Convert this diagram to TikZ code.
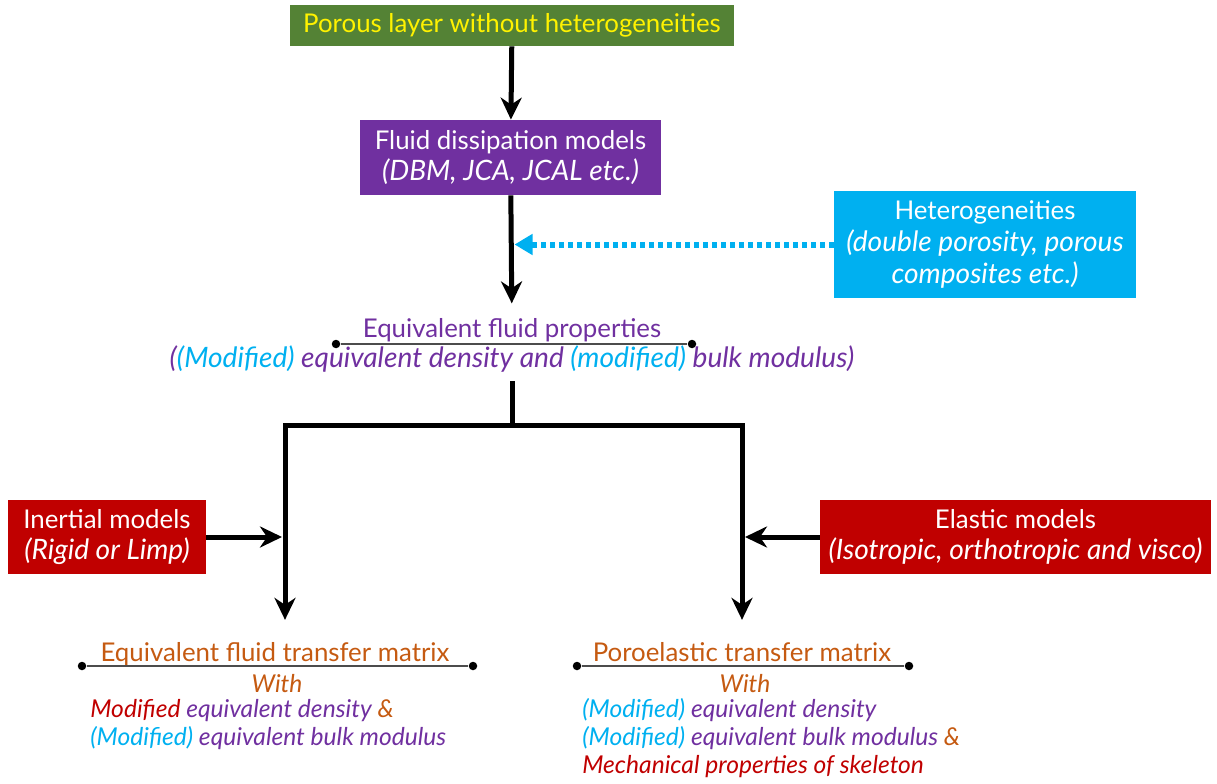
\documentclass[tikz,border=0pt]{standalone}
\usepackage{fontspec}
\setmainfont{Lato}
\usepackage{xcolor}
\usetikzlibrary{arrows.meta,positioning}
\definecolor{leafgreen}{HTML}{548235}
\definecolor{plum}{HTML}{7030A0}
\definecolor{skyblue}{HTML}{00B0F0}
\definecolor{darkred}{HTML}{C00000}
\definecolor{rust}{HTML}{C55A11}

\begin{document}
\begin{tikzpicture}[
  x=0.02cm, y=-0.02cm,
  font=\fontsize{14.7}{18}\selectfont,
  box/.style={rectangle,align=center,text=white,inner sep=2pt},
  sub/.style={font=\fontsize{16}{18}\selectfont\itshape},
  flow/.style={-{Stealth[length=4.4mm,width=4.2mm,inset=1.4mm]},line width=1mm},
  trunk/.style={line width=1mm},
  hetflow/.style={-{Triangle[length=3.6mm,width=4mm]},draw=skyblue,line width=1.2mm,
                  dash pattern=on 1mm off 0.8mm},
  title/.style={inner sep=1pt,anchor=base},
  dot/.style={circle,fill=black,inner sep=0pt,minimum size=1.7mm},
  rule/.style={draw=black!70,line width=0.6pt},
  note/.style={font=\fontsize{14}{15.9}\selectfont\itshape,align=left,inner sep=0pt,anchor=north west}
]
\useasboundingbox (0,0) rectangle (1217,784);

% ===================== models feeding the chain =====================
\node[box,fill=leafgreen,text=yellow,minimum width=8.88cm,minimum height=0.82cm] (layer) at (512,25.5)
  {Porous layer without heterogeneities};
\node[box,fill=plum,minimum width=6.02cm,minimum height=1.5cm] (fdm) at (510.5,157.5)
  {Fluid dissipation models\\{\fontsize{16}{18}\selectfont\itshape (DBM, JCA, JCAL etc.)}};
\node[box,fill=skyblue,minimum width=6.04cm,minimum height=2.14cm] (het) at (985,244.5)
  {Heterogeneities\\{\fontsize{16}{18.5}\selectfont\itshape (double porosity, porous}\\
   {\fontsize{16}{18.5}\selectfont\itshape composites etc.)}};

% ===================== equivalent fluid =====================
\node[title,text=plum] (eqfp) at (512,337) {Equivalent fluid properties};
\node[dot] (eqL) at (336,344) {};
\node[dot] (eqR) at (692,344) {};
\draw[rule] (eqL) -- (eqR);
\node[title,sub,text=plum] (eqfpmod) at (512,367)
  {(\textcolor{skyblue}{(Modified)} equivalent density and \textcolor{skyblue}{(modified)} bulk modulus)};

% ===================== skeleton models =====================
\node[box,fill=darkred,minimum width=3.96cm,minimum height=1.48cm] (inert) at (107,537)
  {Inertial models\\{\fontsize{16}{18}\selectfont\itshape (Rigid or Limp)}};
\node[box,fill=darkred,minimum width=7.82cm,minimum height=1.48cm] (elast) at (1015.5,537)
  {Elastic models\\{\fontsize{16}{18}\selectfont\itshape (Isotropic, orthotropic and visco)}};

% ===================== transfer matrices =====================
\node[title,text=rust] (eftm) at (275,661) {Equivalent fluid transfer matrix};
\node[dot] (efL) at (82,666) {};
\node[dot] (efR) at (473,666) {};
\draw[rule] (efL) -- (efR);
\node[title,text=rust,font=\fontsize{14}{17.6}\selectfont\itshape] (efwith) at (277,692) {With};
\node[note] (efnote) at (90,697.4)
  {\strut\textcolor{darkred}{Modified} \textcolor{plum}{equivalent density} \textcolor{rust}{\&}\\
   \strut\textcolor{skyblue}{(Modified)} \textcolor{plum}{equivalent bulk modulus}};

\node[title,text=rust] (ptm) at (742,661) {Poroelastic transfer matrix};
\node[dot] (pmL) at (577,666) {};
\node[dot] (pmR) at (909,666) {};
\draw[rule] (pmL) -- (pmR);
\node[title,text=rust,font=\fontsize{14}{17.6}\selectfont\itshape] (pmwith) at (745,692) {With};
\node[note] (pmnote) at (582,697.4)
  {\strut\textcolor{skyblue}{(Modified)} \textcolor{plum}{equivalent density}\\
   \strut\textcolor{skyblue}{(Modified)} \textcolor{plum}{equivalent bulk modulus} \textcolor{rust}{\&}\\
   \strut\textcolor{darkred}{Mechanical properties of skeleton}};

% ===================== edges =====================
\coordinate (split) at (512,425);
\coordinate (lbr) at (285,425);
\coordinate (rbr) at (742,425);
% main chain
\draw[flow] (layer) -- (fdm);
\draw[flow,shorten >=2.5mm] (fdm) -- (eqfp);
% heterogeneities modify the fluid model
\draw[hetflow,shorten >=0.8mm] (het) -- (het -| fdm);
% branch to both matrices
\draw[trunk,shorten <=1.5mm] (eqfpmod) -- (split);
\draw[flow,shorten >=4mm] (split) -- (lbr) -- (lbr |- eftm.north);
\draw[flow,shorten >=4mm] (split) -- (rbr) -- (rbr |- ptm.north);
% skeleton models join the branches
\draw[flow,shorten >=0.6mm] (inert) -- (inert -| lbr);
\draw[flow,shorten >=0.6mm] (elast) -- (elast -| rbr);

\end{tikzpicture}
\end{document}
